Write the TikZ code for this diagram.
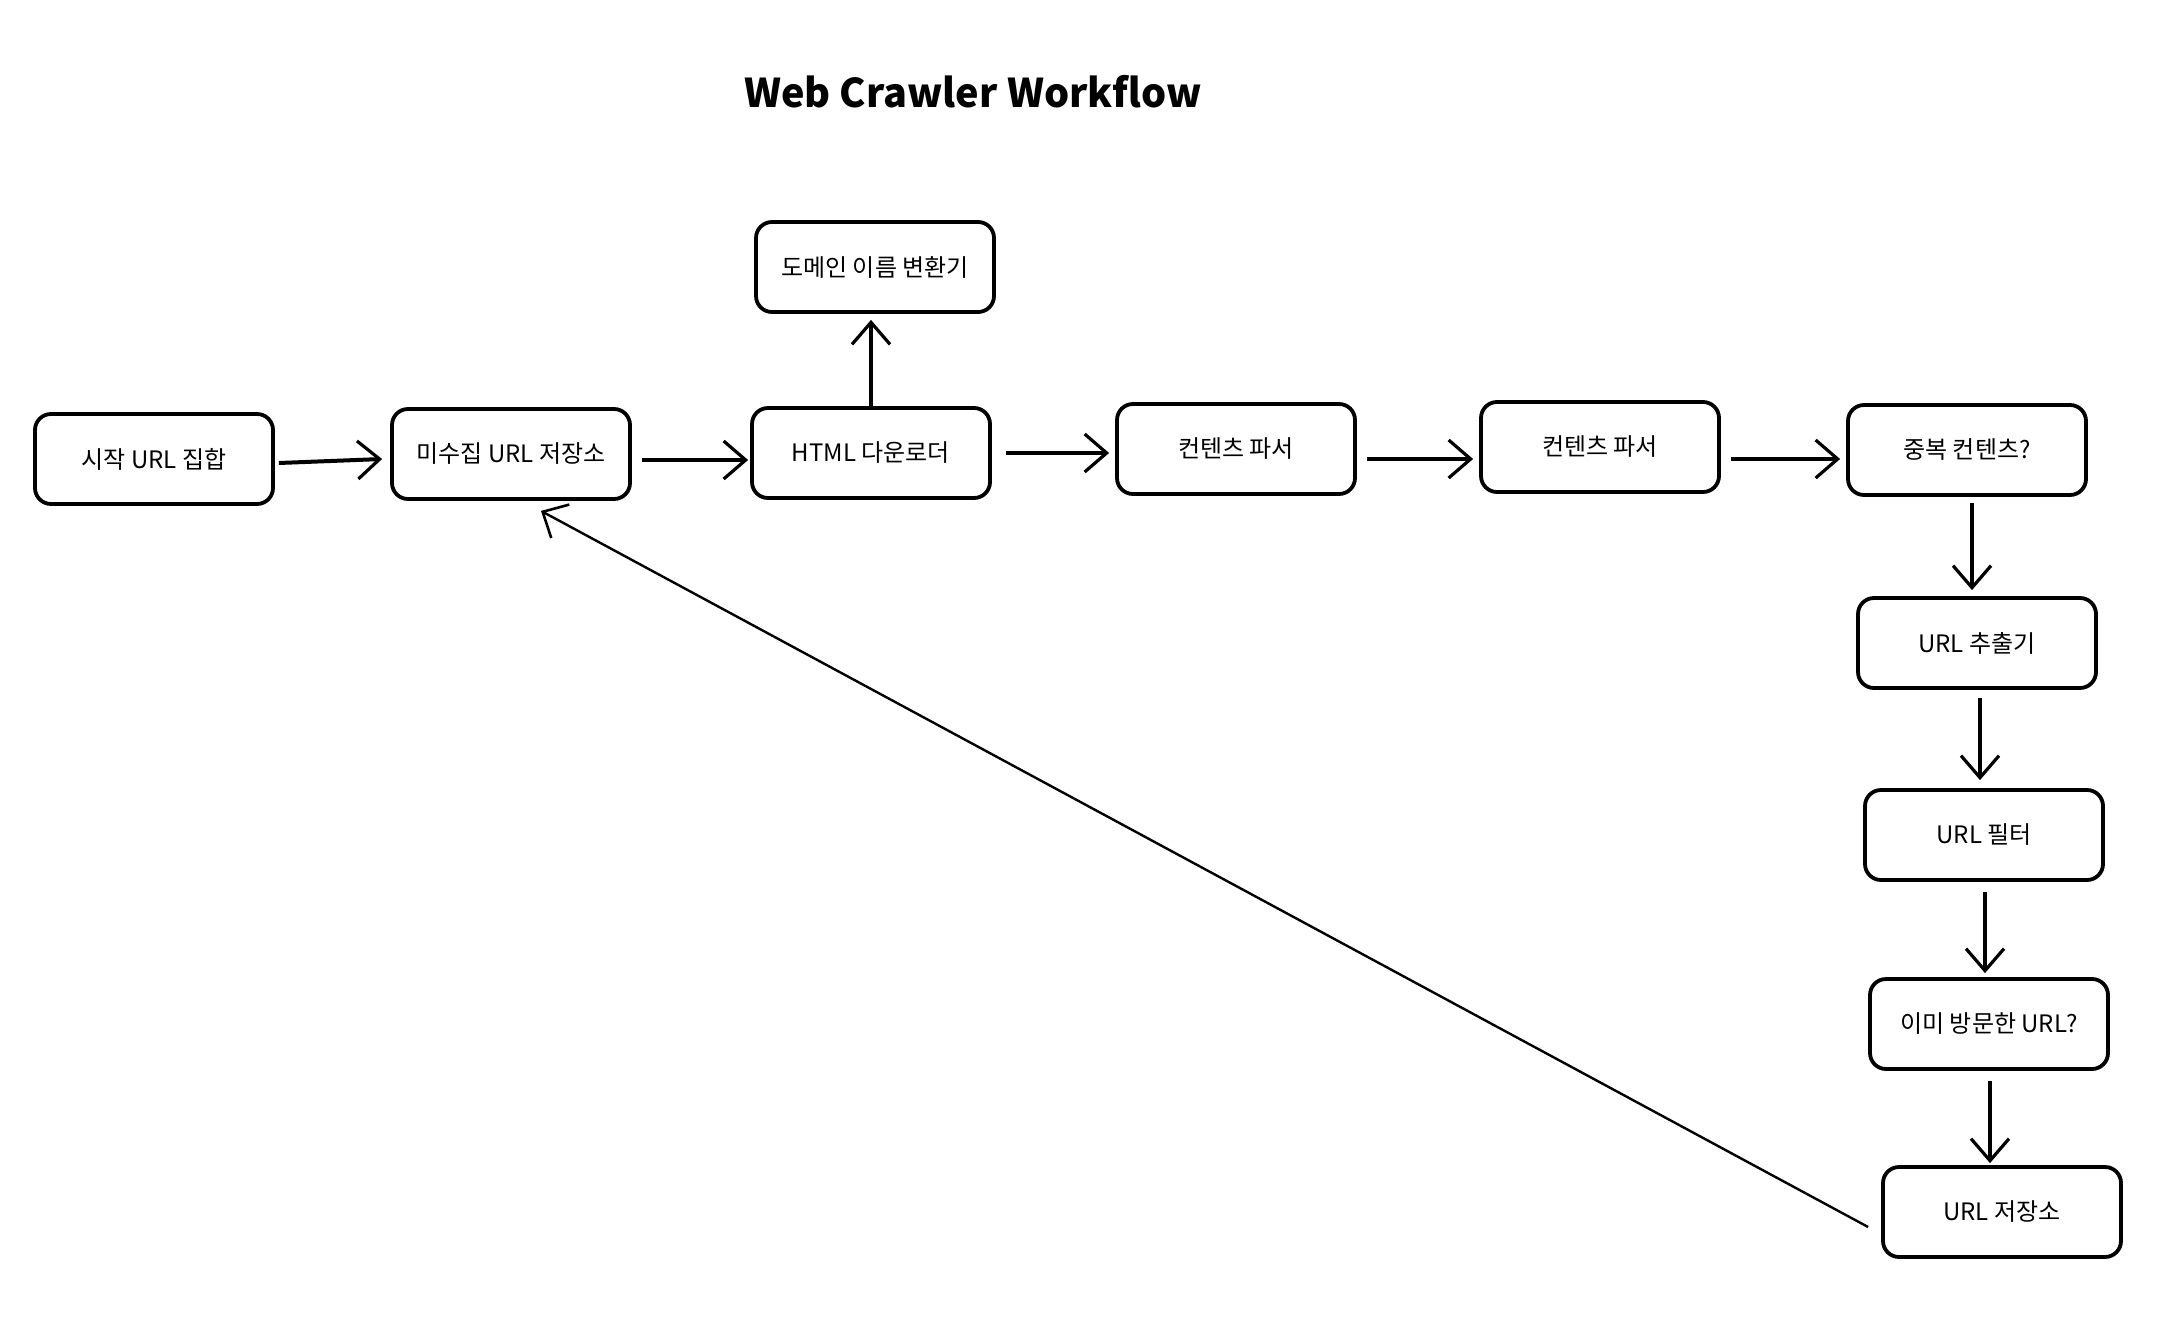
\documentclass[tikz,border=0pt]{standalone}
\usepackage{fontspec}
\setmainfont{Noto Sans CJK KR}
\usetikzlibrary{arrows.meta}
\begin{document}
\begin{tikzpicture}[x=0.5pt,y=-0.5pt,
  box/.style={draw, line width=1.9pt, rounded corners=8pt, minimum width=119pt, minimum height=45pt, inner sep=0pt, font=\fontsize{12pt}{14pt}\selectfont, fill=white},
  arr/.style={line width=2pt, -{Straight Barb[length=11pt,width=19pt,line width=1.6pt]}},
  back/.style={line width=1.2pt, -{Straight Barb[length=10pt,width=19pt,line width=1.3pt]}}]
\fill[white] (0,0) rectangle (2174,1338);
\useasboundingbox (0,0) rectangle (2174,1338);
\node[font=\fontsize{19.8pt}{24pt}\selectfont\bfseries] (title) at (973,92) {Web Crawler Workflow};
\node[box] (b1) at (154,459) {시작 URL 집합};
\node[box] (b2) at (511,454) {미수집 URL 저장소};
\node[box] (b3) at (871,453) {HTML 다운로더};
\node[box] (dn) at (875,267) {도메인 이름 변환기};
\node[box] (p1) at (1236,449) {컨텐츠 파서};
\node[box] (p2) at (1600,447) {컨텐츠 파서};
\node[box] (dup) at (1967,450) {중복 컨텐츠?};
\node[box] (ex) at (1977,643) {URL 추출기};
\node[box] (fl) at (1984,835) {URL 필터};
\node[box] (vs) at (1989,1024) {이미 방문한 URL?};
\node[box] (st) at (2002,1212) {URL 저장소};
\draw[arr] ([xshift=2pt,yshift=-2pt]b1.east) -- ([xshift=-4pt]b1.east -| b2.west);
\draw[arr] ([xshift=5pt,yshift=-3pt]b2.east) -- ([xshift=-1pt,yshift=-3pt]b2.east -| b3.west);
\draw[arr] ([yshift=-2pt]b3.north) -- ([yshift=-3pt,xshift=-2pt]dn.south);
\draw[arr] ([xshift=7pt]b3.east) -- ([xshift=-3pt]b3.east -| p1.west);
\draw[arr] ([xshift=5pt,yshift=-5pt]p1.east) -- ([xshift=-3pt,yshift=-5pt]p1.east -| p2.west);
\draw[arr] ([xshift=5pt,yshift=-6pt]p2.east) -- ([xshift=-3pt,yshift=-6pt]p2.east -| dup.west);
\draw[arr] ([xshift=2.5pt,yshift=-3pt]dup.south) -- ([xshift=2.5pt,yshift=3pt]dup.south |- ex.north);
\draw[arr] ([xshift=1.5pt,yshift=-4pt]ex.south) -- ([xshift=1.5pt,yshift=4pt]ex.south |- fl.north);
\draw[arr] ([xshift=0.5pt,yshift=-5pt]fl.south) -- ([xshift=0.5pt,yshift=2pt]fl.south |- vs.north);
\draw[arr] ([xshift=0.5pt,yshift=-5pt]vs.south) -- ([xshift=0.5pt,yshift=1pt]vs.south |- st.north);
\draw[back] ([xshift=-6.5pt,yshift=-7.5pt]st.west) -- ([xshift=15pt,yshift=-5pt]b2.south);
\end{tikzpicture}
\end{document}
